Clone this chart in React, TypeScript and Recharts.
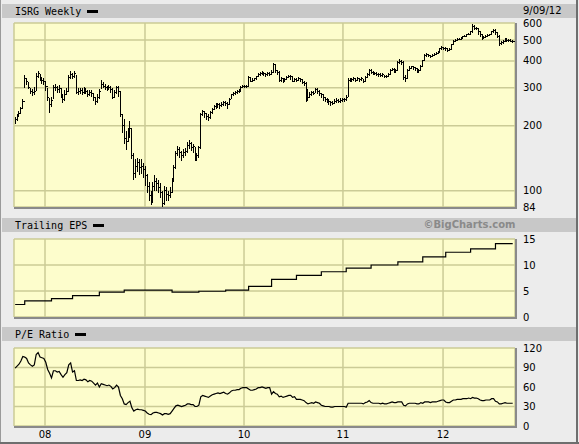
import { CartesianGrid, ComposedChart, ErrorBar, Line, LineChart, Scatter, XAxis, YAxis } from 'recharts'

// weekly bars, week 0 = mid Sep 2007, week 260 = 7 Sep 2012
const priceHigh = [
  220, 228, 235, 245, 265, 345, 335, 318, 300, 295,
  302, 352, 358, 348, 338, 335, 322, 300, 268, 272,
  308, 312, 305, 308, 300, 280, 292, 298, 345, 360,
  352, 358, 345, 298, 300, 298, 302, 300, 292, 292,
  292, 285, 272, 280, 295, 325, 318, 312, 305, 310,
  305, 298, 292, 305, 305, 290, 228, 215, 190, 195,
  210, 195, 150, 140, 142, 140, 140, 135, 130, 120,
  110, 100, 110, 118, 115, 112, 108, 100, 105, 104,
  100, 104, 115, 132, 152, 162, 160, 152, 156, 158,
  168, 172, 168, 164, 160, 150, 162, 230, 238, 234,
  230, 226, 234, 242, 250, 254, 256, 255, 258, 262,
  260, 258, 270, 282, 288, 290, 292, 295, 305, 308,
  310, 310, 340, 338, 332, 335, 342, 350, 355, 358,
  356, 352, 355, 354, 362, 392, 388, 365, 358, 336,
  332, 334, 340, 345, 345, 340, 334, 332, 336, 335,
  330, 322, 318, 295, 288, 290, 290, 300, 298, 292,
  285, 280, 272, 270, 265, 262, 262, 266, 268, 266,
  268, 270, 270, 278, 332, 334, 334, 336, 334, 336,
  335, 336, 330, 340, 350, 368, 366, 360, 356, 354,
  352, 350, 350, 346, 346, 350, 368, 372, 370, 366,
  398, 408, 405, 398, 345, 366, 378, 380, 380, 375,
  370, 368, 382, 405, 430, 434, 432, 428, 430, 436,
  438, 446, 460, 468, 466, 462, 458, 460, 480, 500,
  508, 512, 512, 515, 522, 528, 532, 538, 550, 595,
  585, 575, 568, 548, 535, 522, 528, 532, 536, 550,
  562, 560, 545, 525, 495, 498, 512, 510, 508, 505, 498,
]

const priceLow = [
  205, 210, 220, 228, 240, 300, 310, 295, 282, 275,
  278, 290, 335, 322, 312, 310, 290, 262, 230, 245,
  265, 290, 285, 285, 270, 255, 262, 280, 290, 330,
  330, 335, 280, 278, 282, 278, 282, 280, 272, 275,
  272, 260, 250, 255, 265, 295, 298, 292, 290, 292,
  285, 265, 270, 280, 272, 220, 185, 165, 155, 168,
  175, 140, 112, 115, 122, 118, 120, 115, 105, 98,
  90, 86, 88, 100, 100, 98, 92, 84, 86, 90,
  90, 92, 98, 110, 126, 145, 142, 138, 142, 145,
  150, 156, 152, 150, 138, 138, 142, 156, 222, 218,
  212, 210, 216, 228, 236, 240, 242, 240, 244, 248,
  248, 240, 250, 265, 274, 278, 280, 284, 290, 298,
  298, 300, 305, 318, 318, 322, 328, 336, 342, 344,
  340, 338, 342, 340, 345, 352, 352, 345, 320, 320,
  315, 318, 325, 332, 328, 318, 318, 318, 322, 320,
  312, 305, 258, 262, 268, 276, 278, 285, 282, 276,
  270, 262, 258, 254, 250, 248, 250, 252, 255, 254,
  255, 258, 258, 262, 272, 318, 320, 322, 318, 322,
  320, 322, 315, 318, 332, 342, 348, 345, 344, 340,
  338, 336, 338, 332, 334, 338, 345, 358, 352, 352,
  358, 388, 385, 325, 318, 330, 358, 366, 364, 360,
  350, 352, 360, 378, 400, 418, 418, 414, 416, 422,
  425, 430, 438, 450, 450, 446, 440, 444, 452, 472,
  492, 496, 498, 502, 508, 515, 520, 525, 530, 540,
  555, 555, 530, 515, 500, 505, 510, 515, 520, 528,
  540, 530, 510, 470, 472, 478, 488, 492, 490, 488, 484,
]

const priceClose = [
  213, 222, 228, 240, 258, 330, 322, 300, 290, 285,
  290, 340, 350, 330, 325, 322, 305, 270, 250, 262,
  300, 302, 295, 298, 280, 265, 280, 290, 335, 345,
  340, 350, 285, 288, 292, 285, 295, 290, 280, 285,
  282, 270, 258, 270, 290, 310, 305, 300, 298, 302,
  295, 272, 285, 300, 290, 225, 200, 175, 170, 185,
  195, 145, 120, 130, 135, 128, 130, 125, 118, 105,
  95, 90, 105, 110, 108, 104, 98, 87, 100, 96,
  95, 98, 112, 128, 148, 155, 150, 145, 150, 152,
  162, 165, 158, 160, 142, 145, 158, 225, 232, 228,
  222, 218, 230, 238, 245, 248, 250, 248, 252, 256,
  255, 250, 265, 278, 282, 285, 288, 290, 300, 304,
  305, 306, 335, 322, 326, 330, 338, 346, 350, 352,
  348, 345, 350, 347, 355, 385, 360, 355, 325, 330,
  322, 328, 335, 340, 338, 322, 328, 325, 330, 328,
  318, 315, 290, 270, 280, 285, 283, 295, 290, 282,
  278, 270, 265, 262, 258, 256, 255, 260, 262, 260,
  262, 265, 264, 272, 325, 326, 328, 330, 325, 330,
  328, 330, 320, 335, 345, 362, 355, 352, 350, 347,
  345, 343, 345, 338, 340, 345, 362, 365, 358, 360,
  392, 397, 395, 335, 330, 362, 370, 375, 372, 368,
  358, 362, 378, 400, 425, 428, 425, 420, 425, 430,
  432, 440, 455, 460, 458, 455, 448, 452, 475, 495,
  500, 505, 505, 510, 518, 522, 528, 532, 545, 575,
  568, 565, 545, 530, 510, 515, 520, 525, 530, 545,
  555, 540, 520, 480, 485, 490, 505, 500, 500, 495, 490,
]

const peRatio = [
  89, 92, 95, 100, 107, 106, 104, 97, 94, 92,
  94, 110, 113, 106, 105, 104, 98, 87, 81, 74,
  85, 85, 83, 84, 79, 75, 79, 82, 94, 97,
  83, 85, 70, 70, 71, 70, 72, 71, 68, 70,
  69, 66, 63, 66, 60, 65, 64, 63, 62, 63,
  61, 57, 59, 63, 60, 47, 42, 34, 33, 36,
  38, 28, 23, 25, 26, 25, 25, 24, 23, 20,
  18, 17.5, 20, 21, 21, 20, 19, 17, 19, 19,
  18, 19, 23, 27, 31, 32, 31, 30, 31, 32,
  34, 34, 33, 33, 30, 30, 32, 45, 47, 46,
  45, 44, 46, 48, 49, 50, 51, 50, 51, 52,
  50, 49, 51, 54, 55, 55, 56, 56, 58, 59,
  59, 59, 57, 55, 55, 56, 57, 59, 59, 60,
  59, 58, 59, 59, 49, 53, 50, 49, 45, 46,
  44, 45, 46, 47, 47, 44, 45, 41, 41, 41,
  40, 39, 36, 34, 35, 36, 35, 37, 36, 35,
  32, 31, 30, 30, 30, 29, 29, 30, 30, 30,
  30, 30, 30, 29, 35, 35, 35, 35, 35, 35,
  35, 35, 34, 36, 37, 39, 36, 35, 35, 35,
  35, 34, 35, 34, 34, 35, 36, 37, 36, 36,
  37, 37, 37, 32, 31, 34, 35, 35, 35, 35,
  34, 34, 36, 35, 37, 37, 37, 36, 37, 37,
  37, 38, 39, 40, 40, 37, 36, 36, 38, 40,
  40, 41, 41, 41, 42, 42, 42, 43, 42, 44,
  43, 43, 42, 40, 39, 39, 40, 40, 40, 42,
  42, 38, 37, 34, 34, 35, 36, 35, 35, 35, 35,
]

// trailing EPS steps: week where each level starts
const epsWeek = [0, 5, 19, 30, 44, 57, 82, 96, 110, 122, 134, 147, 160, 173, 186, 200, 213, 225, 238, 251, 260]
const epsValue = [2.4, 3.1, 3.55, 4.1, 4.8, 5.15, 4.8, 4.95, 5.15, 5.9, 7.25, 8.0, 8.7, 9.4, 10.0, 10.6, 11.55, 12.45, 13.1, 14.1, 14.1]

const yearTicks = [15.6, 67.85, 119.6, 171.3, 223.6]
const yearLabels = ['08', '09', '10', '11', '12']
const priceTicks = [84, 100, 200, 300, 400, 500, 600]
const epsTicks = [0, 5, 10, 15]
const peTicks = [0, 30, 60, 90, 120]

const weekly = priceClose.map((close, i) => ({
  i,
  close,
  err: [close - priceLow[i], priceHigh[i] - close],
  pe: peRatio[i],
}))
const epsRows = epsWeek.map((w, k) => ({ i: w, eps: epsValue[k] }))

const xDomain: [number, number] = [-0.6, 261.2]
const gridColor = '#cbcb96'
const mono = '"DejaVu Sans Mono", monospace'
const sans = '"DejaVu Sans", sans-serif'
const tickStyle = { fontSize: 10, fontFamily: sans, fill: '#000' }

function Band({ top, label }: { top: number; label: string }) {
  return (
    <div style={{ position: 'absolute', left: 2, top, width: 574, height: 14, background: '#c8c8c8' }}>
      <div style={{ position: 'absolute', left: 13, top: 0, height: 14, display: 'flex', alignItems: 'center', fontFamily: mono, fontSize: 10, color: '#000' }}>
        <span>{label}</span>
        <span style={{ display: 'inline-block', width: 11, height: 3, background: '#000', marginLeft: 6 }} />
      </div>
    </div>
  )
}

function PlotBox({ top, height }: { top: number; height: number }) {
  return <div style={{ position: 'absolute', left: 14, top, width: 501, height, background: '#fdfdcc' }} />
}

function PlotFrame({ top, height }: { top: number; height: number }) {
  return (
    <div style={{ position: 'absolute', left: 14, top, width: 503, height: height + 2, boxSizing: 'border-box', borderRight: '2px solid #8a8a8a', borderBottom: '2px solid #8a8a8a', pointerEvents: 'none' }} />
  )
}

const closeTick = (props: any) => {
  const { cx, cy } = props
  if (cx == null || cy == null) return <g />
  return <path d={`M${cx},${cy}h1.8`} stroke="#000" strokeWidth={1} fill="none" shapeRendering="crispEdges" />
}

export default function App() {
  return (
    <div style={{ position: 'absolute', left: 0, top: 0, width: 579, height: 444, background: '#ececec', overflow: 'hidden' }}>
      <div style={{ position: 'absolute', left: 0, top: 0, width: 1, height: 444, background: '#9a9a9a' }} />
      <div style={{ position: 'absolute', left: 576, top: 0, width: 2, height: 444, background: '#6e6e6e' }} />
      <div style={{ position: 'absolute', left: 0, top: 442, width: 579, height: 2, background: '#6e6e6e' }} />

      <Band top={4} label="ISRG Weekly" />
      <div style={{ position: 'absolute', left: 523, top: 4, height: 14, lineHeight: '14px', fontFamily: sans, fontSize: 10, color: '#000' }}>9/09/12</div>

      <Band top={218} label="Trailing EPS" />
      <div style={{ position: 'absolute', left: 421, top: 218, width: 97, height: 14, lineHeight: '14px', textAlign: 'center', fontFamily: sans, fontSize: 10, fontWeight: 'bold', color: '#8a8a8a' }}>©BigCharts.com</div>

      <Band top={327} label="P/E Ratio" />

      <PlotBox top={23} height={184} />
      <PlotBox top={239} height={78} />
      <PlotBox top={348} height={78} />

      <div style={{ position: 'absolute', left: 0, top: 0 }}>
        <ComposedChart width={579} height={215} data={weekly} margin={{ top: 23, right: 0, bottom: 8, left: 14 }}>
          <CartesianGrid stroke={gridColor} strokeWidth={1.5} />
          <XAxis type="number" dataKey="i" domain={xDomain} ticks={yearTicks} allowDataOverflow hide />
          <YAxis orientation="right" scale="log" domain={[84, 600]} ticks={priceTicks} allowDataOverflow interval={0} width={64} tickSize={0} tickMargin={8} axisLine={false} tickLine={false} tick={tickStyle} />
          <Scatter dataKey="close" shape={closeTick} isAnimationActive={false}>
            <ErrorBar dataKey="err" direction="y" width={0} stroke="#000" strokeWidth={1} shapeRendering="crispEdges" isAnimationActive={false} />
          </Scatter>
        </ComposedChart>
      </div>

      <div style={{ position: 'absolute', left: 0, top: 230 }}>
        <LineChart width={579} height={95} margin={{ top: 9, right: 0, bottom: 8, left: 14 }}>
          <CartesianGrid stroke={gridColor} strokeWidth={1.5} />
          <XAxis type="number" dataKey="i" domain={xDomain} ticks={yearTicks} allowDataOverflow hide />
          <YAxis orientation="right" domain={[0, 15]} ticks={epsTicks} interval={0} width={64} tickSize={0} tickMargin={8} axisLine={false} tickLine={false} tick={tickStyle} />
          <Line data={epsRows} dataKey="eps" type="stepAfter" stroke="#000" strokeWidth={1.2} dot={false} isAnimationActive={false} />
        </LineChart>
      </div>

      <div style={{ position: 'absolute', left: 0, top: 340 }}>
        <LineChart width={579} height={104} data={weekly} margin={{ top: 8, right: 0, bottom: 0, left: 14 }}>
          <CartesianGrid stroke={gridColor} strokeWidth={1.5} />
          <XAxis type="number" dataKey="i" domain={xDomain} ticks={yearTicks} allowDataOverflow interval={0} height={18} tickSize={0} tickMargin={5} axisLine={false} tickLine={false} tick={tickStyle} tickFormatter={(v: number) => yearLabels[yearTicks.indexOf(v)] ?? ''} />
          <YAxis orientation="right" domain={[0, 120]} ticks={peTicks} interval={0} width={64} tickSize={0} tickMargin={8} axisLine={false} tickLine={false} tick={tickStyle} />
          <Line dataKey="pe" type="linear" stroke="#000" strokeWidth={1.2} dot={false} isAnimationActive={false} />
        </LineChart>
      </div>

      <PlotFrame top={23} height={184} />
      <PlotFrame top={239} height={78} />
      <PlotFrame top={348} height={78} />
    </div>
  )
}
